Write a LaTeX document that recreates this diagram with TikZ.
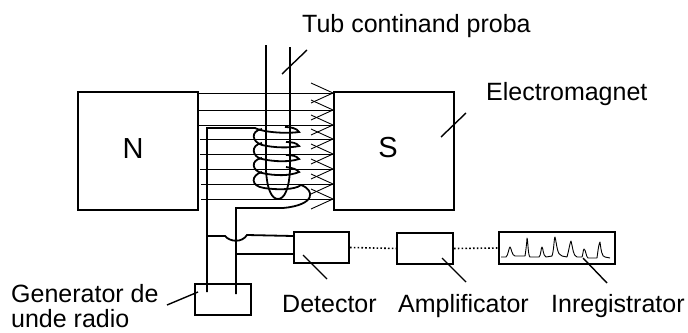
\documentclass[tikz,border=0pt]{standalone}
\usepackage{fontspec}
\setmainfont{Liberation Sans}
\begin{document}
\begin{tikzpicture}[x=1pt,y=-1pt,
  box/.style={draw,line width=2pt,inner sep=0pt,anchor=north west},
  wire/.style={line width=1.8pt},
  thin line/.style={line width=0.9pt},
  leader/.style={line width=1.4pt},
  dots/.style={line width=1.6pt,dash pattern=on 1.6pt off 2.2pt},
  lab/.style={font=\fontsize{25pt}{28pt}\selectfont,inner sep=0pt,anchor=base west},
  big/.style={font=\fontsize{29pt}{32pt}\selectfont,inner sep=0pt}]
\useasboundingbox (0,0) rectangle (688,332);
\node[box,minimum width=120pt,minimum height=118.5pt] (N) at (77,90.5) {};
\node[box,minimum width=119.5pt,minimum height=118pt] (S) at (333,90.5) {};
\node[big] (Nt) at (133,149) {N};
\node[big] (St) at (388,148) {S};
\node[box,minimum width=55pt,minimum height=31pt] (det) at (293,231) {};
\node[box,minimum width=56pt,minimum height=31pt] (amp) at (396,232) {};
\node[box,minimum width=116pt,minimum height=32pt] (rec) at (498,231) {};
\node[box,minimum width=56pt,minimum height=31pt] (gen) at (194,283) {};
% field lines
\foreach \y/\xs in {93/199,110/199,125/199,139/200,154/200,169/200,184/201,199/201}{
  \draw[thin line] (\xs,\y) -- (333,\y);
  \draw[thin line] (311,\y-10) -- (333,\y) -- (311,\y+10);
}
% tube
\draw[wire] (266,45) -- (266,170) .. controls (267,190) and (272,199) .. (278,199) .. controls (284,199) and (289,190) .. (290,170) -- (290,47);
% coil
\draw[wire] (207,292) -- (207,128) -- (255,128)
 .. controls (262,132) and (285,134) .. (299,132) .. controls (297,128) and (290,127) .. (285,127);
\draw[wire] (262,129) .. controls (250,131) and (252,142) .. (262,145)
 .. controls (275,148) and (290,148) .. (299,146) .. controls (297,143) and (292,142) .. (286,142);
\draw[wire] (262,143) .. controls (250,145) and (252,157) .. (262,159)
 .. controls (275,162) and (290,162) .. (299,159) .. controls (297,156) and (292,155) .. (286,155);
\draw[wire] (262,158) .. controls (250,160) and (252,171) .. (262,173)
 .. controls (275,176) and (290,176) .. (299,172) .. controls (297,169) and (292,168) .. (286,167);
\draw[wire] (262,172) .. controls (251,175) and (250,186) .. (264,188)
 .. controls (277,190) and (295,190) .. (301,185)
 .. controls (315,190) and (316,205) .. (283,208) -- (236,208) -- (236,294);
% outputs
\coordinate (h1) at (207,236);
\coordinate (h2) at (236,254);
\draw[wire] (h1) -- (225,236) .. controls (230,242) and (242,243) .. (247,235) -- (293,236);
\draw[wire] (h2) -- (293,254);
\draw[dots] (det.east) -- (amp.west);
\draw[dots] (amp.east) -- (rec.west);
% trace
\draw[line width=0.9pt,line join=round] (501,257) -- (506,257) .. controls (508,256) and (509,247) .. (510,247) .. controls (511,247) and (512,256) .. (515,256) -- (525,256) .. controls (526,250) and (527,240) .. (527,238) .. controls (528,240) and (528,256) .. (530,257) -- (539,257) .. controls (541,256) and (541,247) .. (542,247) .. controls (543,247) and (543,256) .. (546,257) -- (552,256) .. controls (554,250) and (554,238) .. (555,237) .. controls (557,245) and (557,255) .. (562,256) -- (567,257) .. controls (569,250) and (570,242) .. (571,241) .. controls (573,248) and (573,256) .. (577,257) -- (582,257) .. controls (583,255) and (583,250) .. (584,249) .. controls (586,250) and (586,257) .. (588,258) -- (597,258) .. controls (598,250) and (599,243) .. (600,242) .. controls (601,250) and (602,257) .. (605,257) -- (610,258);
% leaders
\coordinate (t1) at (282,74); \coordinate (t2) at (307,50);
\draw[leader] (t1) -- (t2);
\coordinate (e1) at (441,137); \coordinate (e2) at (466,113);
\draw[leader] (e1) -- (e2);
\coordinate (d1) at (303,255); \coordinate (d2) at (327,279);
\draw[leader] (d1) -- (d2);
\coordinate (a1) at (442,258); \coordinate (a2) at (466,282);
\draw[leader] (a1) -- (a2);
\coordinate (r1) at (583,258); \coordinate (r2) at (607,283);
\draw[leader] (r1) -- (r2);
\coordinate (g1) at (167,305); \coordinate (g2) at (198,292);
\draw[leader] (g1) -- (g2);
% text
\node[lab] (tt) at (302,32) {Tub continand proba};
\node[lab] (te) at (486,100) {Electromagnet};
\node[lab] (tg) at (11,302) {Generator de};
\node[lab] (tu) at (11,327) {unde radio};
\node[lab] (td) at (282,312) {Detector};
\node[lab] (ta) at (398,312) {Amplificator};
\node[lab] (tr) at (551,312) {Inregistrator};
\end{tikzpicture}
\end{document}
